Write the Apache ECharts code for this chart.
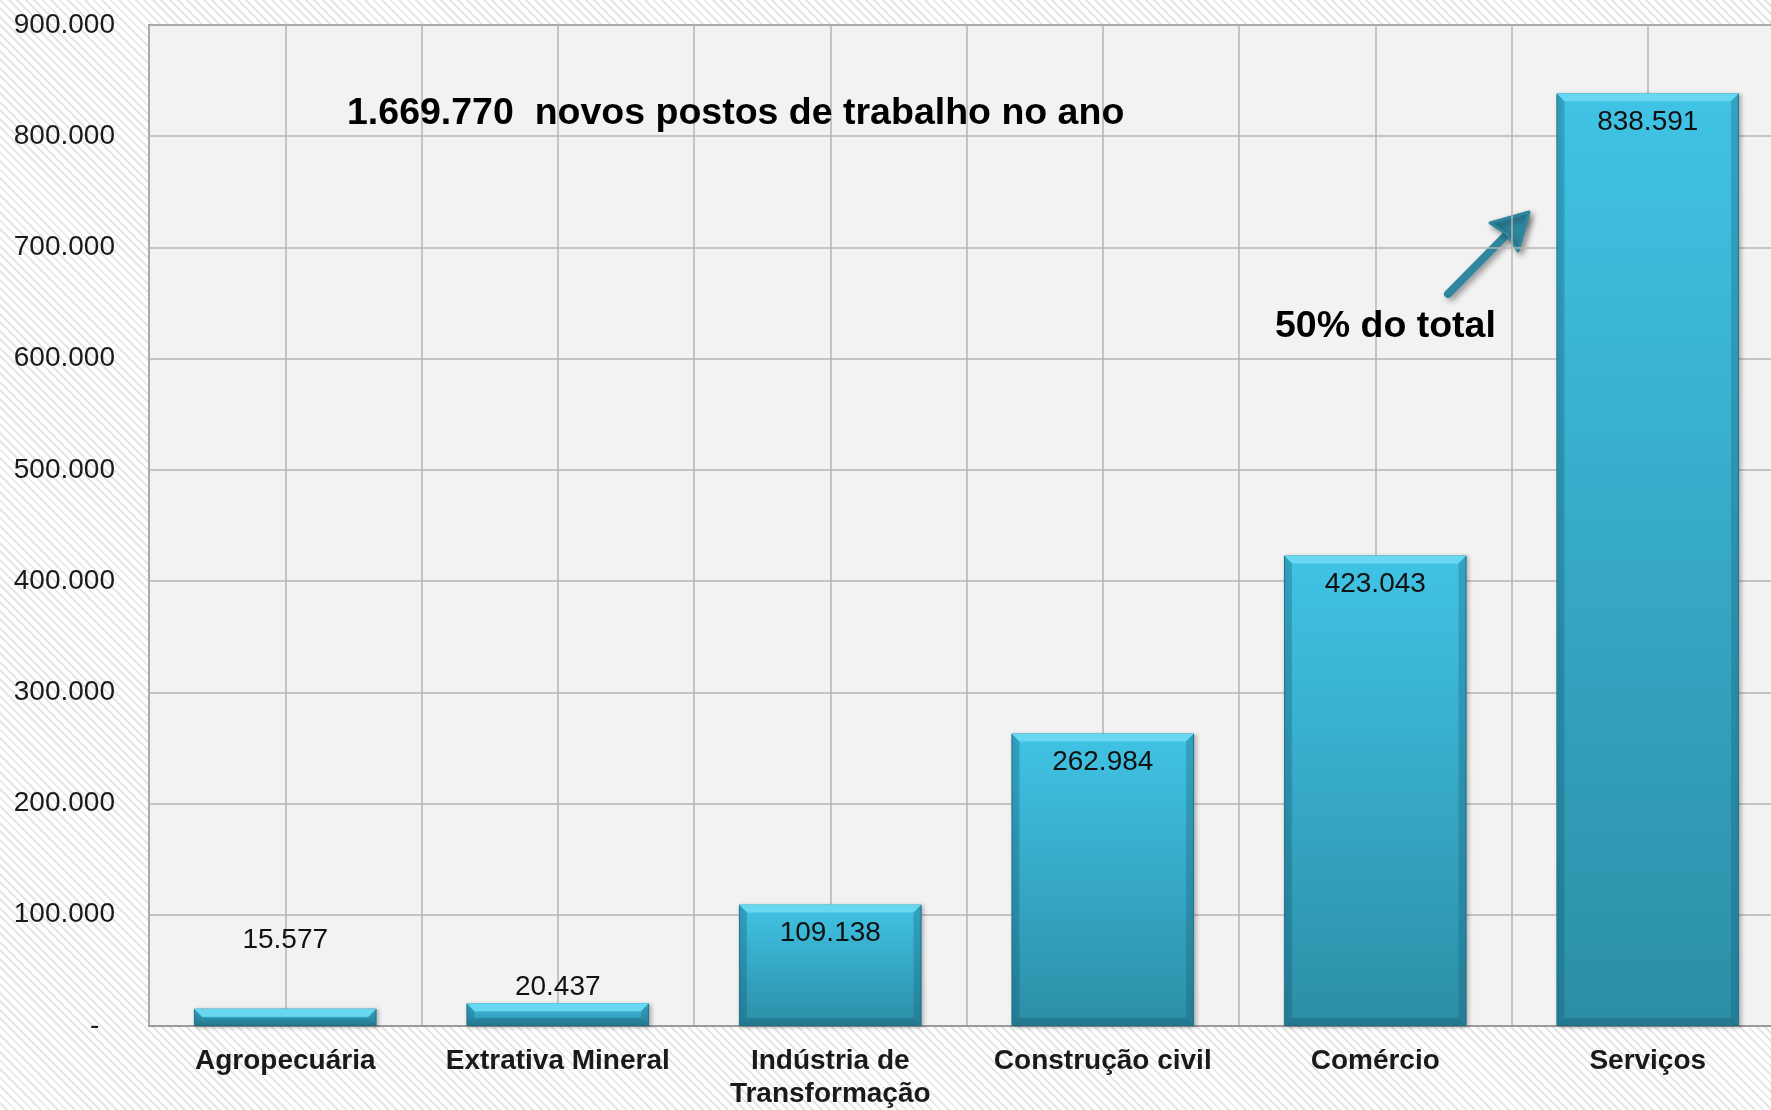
<!DOCTYPE html>
<html>
<head>
<meta charset="utf-8">
<script src="https://cdn.jsdelivr.net/npm/echarts@6/dist/echarts.min.js"></script>
<style>
  html, body { margin: 0; padding: 0; }
  body {
    width: 1771px; height: 1110px; overflow: hidden;
    background: repeating-linear-gradient(45deg, #ffffff 0px, #ffffff 4px, #e6e6e6 4px, #e6e6e6 6px);
  }
  #chart { width: 1784px; height: 1110px; }
</style>
</head>
<body>
<div id="chart"></div>
<script>
// ---- data ----
const categories = ['Agropecuária', 'Extrativa Mineral', 'Indústria de\nTransformação', 'Construção civil', 'Comércio', 'Serviços'];
const values = [15577, 20437, 109138, 262984, 423043, 838591];
const yMin = 0;
const yMax = 900000;
const yInterval = 100000;
const headline = '1.669.770  novos postos de trabalho no ano';
const note = '50% do total';

// ---- helpers ----
function fmt(v) {
  if (v === 0) return '-  ';
  return String(Math.round(v)).replace(/\B(?=(\d{3})+(?!\d))/g, '.');
}

const FONT = 'Liberation Sans, Arial, sans-serif';
const BAR_RATIO = 0.67;

// label placement per bar (Excel-like placement)
const labelPlacement = [
  { position: 'top', distance: 54 },
  { position: 'top', distance: 2 },
  { position: 'insideTop', distance: 15 },
  { position: 'insideTop', distance: 15 },
  { position: 'insideTop', distance: 15 },
  { position: 'insideTop', distance: 15 }
];

const barData = values.map((v, i) => ({
  value: v,
  label: labelPlacement[i]
}));

const chart = echarts.init(document.getElementById('chart'), null, { renderer: 'canvas' });

const option = {
  backgroundColor: 'transparent',
  animation: false,
  grid: {
    left: 149, top: 25, right: 0, bottom: 84,
    outerBoundsMode: 'none',
    show: true, backgroundColor: '#f2f2f2', borderColor: '#8a8a8a', borderWidth: 2,
    containLabel: false
  },
  xAxis: [
    {
      type: 'category',
      data: categories,
      boundaryGap: true,
      axisLine: { show: true, lineStyle: { color: '#9a9a9a', width: 2 } },
      axisTick: { show: false },
      splitLine: { show: false },
      axisLabel: {
        interval: 0, margin: 19,
        fontFamily: FONT, fontSize: 28, fontWeight: 'bold', color: '#1a1a1a', lineHeight: 33
      }
    },
    {
      type: 'value',
      min: 0, max: categories.length, interval: 0.5,
      position: 'bottom',
      axisLine: { show: false }, axisTick: { show: false }, axisLabel: { show: false },
      splitLine: { show: true, lineStyle: { color: '#b4b4b4', width: 1.5 } }
    }
  ],
  yAxis: {
    type: 'value',
    min: yMin, max: yMax, interval: yInterval,
    axisLine: { show: false },
    axisTick: { show: false },
    splitLine: { show: true, lineStyle: { color: '#b4b4b4', width: 1.5 } },
    axisLabel: {
      margin: 34, fontFamily: FONT, fontSize: 28, color: '#1a1a1a',
      formatter: fmt
    }
  },
  series: [
    {
      type: 'bar',
      xAxisIndex: 0,
      data: barData,
      barWidth: (BAR_RATIO * 100) + '%',
      z: 2,
      itemStyle: {
        color: {
          type: 'linear', x: 0, y: 0, x2: 0, y2: 1,
          colorStops: [
            { offset: 0, color: '#40c3e5' },
            { offset: 1, color: '#2c8ea6' }
          ]
        },
        borderColor: '#2a8099', borderWidth: 1,
        shadowColor: 'rgba(0,0,0,0.25)', shadowBlur: 4, shadowOffsetX: 2, shadowOffsetY: 1
      },
      label: {
        show: true,
        fontFamily: FONT, fontSize: 28, color: '#111',
        formatter: p => fmt(p.value)
      }
    },
    {
      type: 'custom',
      xAxisIndex: 0,
      z: 3,
      silent: true,
      data: values.map((v, i) => [i, v]),
      renderItem: function (params, api) {
        const idx = api.value(0);
        const v = api.value(1);
        const top = api.coord([idx, v]);
        const bot = api.coord([idx, 0]);
        const w = api.size([1, 0])[0] * BAR_RATIO;
        const x0 = top[0] - w / 2, x1 = top[0] + w / 2;
        const y0 = top[1], y1 = bot[1];
        const b = Math.min(8, (y1 - y0) / 2);
        return {
          type: 'group',
          children: [
            { type: 'polygon', shape: { points: [[x0, y0], [x1, y0], [x1 - b, y0 + b], [x0 + b, y0 + b]] },
              style: { fill: '#68d8f1' } },
            { type: 'polygon', shape: { points: [[x0, y0], [x0 + b, y0 + b], [x0 + b, y1 - b], [x0, y1]] },
              style: { fill: 'rgba(20,90,115,0.3)' } },
            { type: 'polygon', shape: { points: [[x1, y0], [x1, y1], [x1 - b, y1 - b], [x1 - b, y0 + b]] },
              style: { fill: 'rgba(20,90,115,0.3)' } },
            { type: 'polygon', shape: { points: [[x0, y1], [x0 + b, y1 - b], [x1 - b, y1 - b], [x1, y1]] },
              style: { fill: 'rgba(10,60,80,0.25)' } }
          ]
        };
      }
    }
  ],
  graphic: [
    {
      type: 'text', left: 347, top: 95, z: 10,
      style: { text: headline, fontFamily: FONT, fontSize: 37.5, fontWeight: 'bold', fill: '#000' }
    },
    {
      type: 'text', left: 1275, top: 308, z: 10,
      style: { text: note, fontFamily: FONT, fontSize: 37.5, fontWeight: 'bold', fill: '#000' }
    },
    {
      type: 'group', z: 10,
      children: [
        { type: 'line', shape: { x1: 1448, y1: 294, x2: 1522, y2: 219 },
          style: { stroke: '#2f869f', lineWidth: 8, lineCap: 'round',
                   shadowColor: 'rgba(0,0,0,0.4)', shadowBlur: 6, shadowOffsetX: 3, shadowOffsetY: 3 } },
        { type: 'polygon', shape: { points: [[1529, 212], [1518, 251], [1507, 234], [1490, 223]] },
          style: { fill: '#2f869f', stroke: '#2f869f', lineWidth: 3, lineJoin: 'round',
                   shadowColor: 'rgba(0,0,0,0.4)', shadowBlur: 6, shadowOffsetX: 3, shadowOffsetY: 3 } }
      ]
    }
  ]
};

chart.setOption(option);
</script>
</body>
</html>
